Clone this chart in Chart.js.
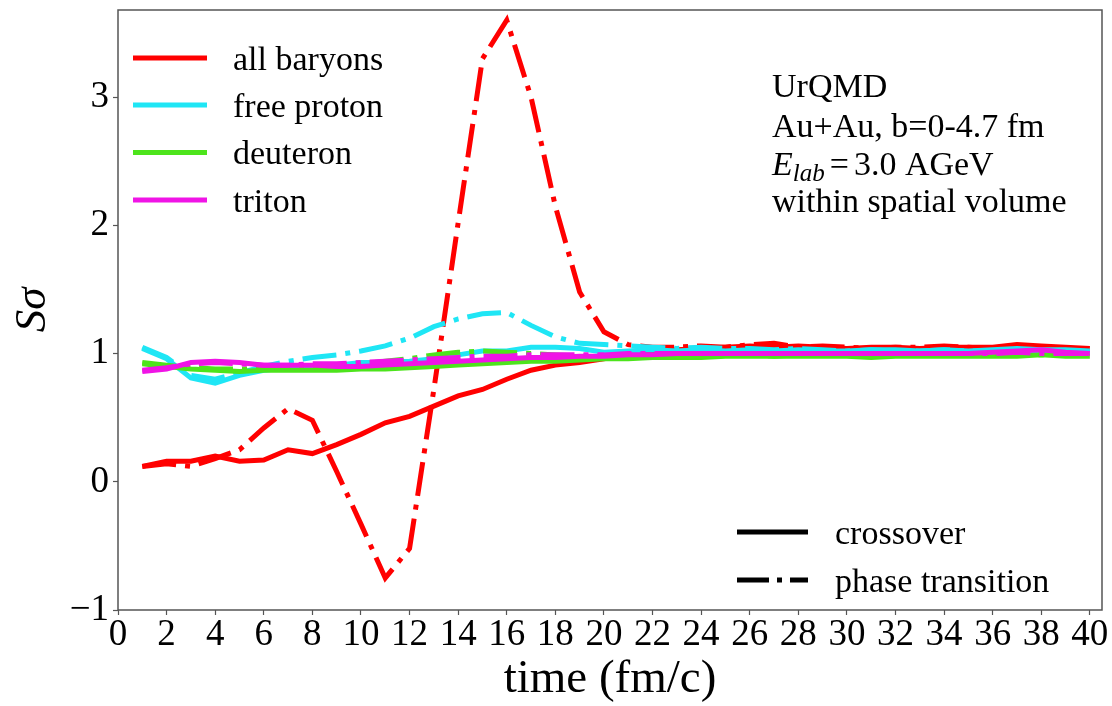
<!DOCTYPE html>
<html>
<head>
<meta charset="utf-8">
<title>S sigma vs time</title>
<script src="https://cdn.jsdelivr.net/npm/chart.js@4.4.1/dist/chart.umd.min.js"></script>
<style>
    html, body { margin: 0; padding: 0; background: #fff; }
    #wrap { width: 1112px; height: 706px; }
</style>
</head>
<body>
<div id="wrap"><canvas id="sigma-chart" width="1112" height="706"></canvas></div>
<script>
const times = [1, 2, 3, 4, 5, 6, 7, 8, 9, 10, 11, 12, 13, 14, 15, 16, 17, 18, 19, 20,
    21, 22, 23, 24, 25, 26, 27, 28, 29, 30, 31, 32, 33, 34, 35, 36, 37, 38, 39, 40];

// crossover (solid)
const baryonsCross = [0.12, 0.16, 0.16, 0.20, 0.16, 0.17, 0.25, 0.22, 0.29, 0.37,
    0.46, 0.51, 0.59, 0.67, 0.72, 0.80, 0.87, 0.91, 0.93, 0.96,
    0.99, 1.02, 1.03, 1.04, 1.05, 1.06, 1.05, 1.06, 1.05, 1.04,
    1.05, 1.05, 1.04, 1.05, 1.05, 1.05, 1.07, 1.06, 1.05, 1.04];
const protonCross = [1.04, 0.96, 0.81, 0.77, 0.83, 0.87, 0.89, 0.90, 0.91, 0.93,
    0.93, 0.94, 0.96, 0.99, 1.02, 1.02, 1.05, 1.05, 1.04, 1.01,
    1.02, 1.03, 1.02, 1.03, 1.02, 1.03, 1.02, 1.03, 1.02, 1.02,
    1.03, 1.03, 1.02, 1.03, 1.02, 1.03, 1.04, 1.03, 1.03, 1.02];
const deuteronCross = [0.92, 0.90, 0.88, 0.87, 0.86, 0.87, 0.87, 0.87, 0.87, 0.88,
    0.88, 0.89, 0.90, 0.91, 0.92, 0.93, 0.94, 0.94, 0.95, 0.96,
    0.96, 0.97, 0.97, 0.97, 0.98, 0.98, 0.98, 0.98, 0.98, 0.98,
    0.97, 0.98, 0.98, 0.98, 0.98, 0.98, 0.98, 0.99, 0.98, 0.98];
const tritonCross = [0.86, 0.88, 0.93, 0.94, 0.93, 0.91, 0.91, 0.91, 0.90, 0.90,
    0.91, 0.92, 0.93, 0.94, 0.95, 0.96, 0.97, 0.97, 0.98, 0.98,
    0.99, 0.99, 1.00, 1.00, 1.00, 1.00, 1.00, 1.00, 1.00, 1.00,
    1.00, 1.00, 1.00, 1.00, 1.00, 1.01, 1.02, 1.03, 1.01, 1.00];

// phase transition (dash-dot)
const baryonsPhase = [0.12, 0.14, 0.12, 0.18, 0.25, 0.42, 0.57, 0.48, 0.08, -0.33,
    -0.75, -0.52, 0.72, 2.02, 3.30, 3.60, 3.00, 2.15, 1.48, 1.17,
    1.07, 1.05, 1.05, 1.06, 1.05, 1.07, 1.08, 1.05, 1.06, 1.05,
    1.04, 1.05, 1.05, 1.06, 1.05, 1.04, 1.05, 1.05, 1.04, 1.03];
const protonPhase = [1.05, 0.97, 0.83, 0.80, 0.85, 0.90, 0.94, 0.97, 0.99, 1.02,
    1.06, 1.12, 1.21, 1.27, 1.31, 1.32, 1.22, 1.13, 1.08, 1.07,
    1.06, 1.05, 1.04, 1.05, 1.04, 1.04, 1.03, 1.04, 1.03, 1.02,
    1.03, 1.02, 1.02, 1.03, 1.02, 1.02, 1.03, 1.02, 1.02, 1.01];
const deuteronPhase = [0.93, 0.91, 0.89, 0.88, 0.88, 0.88, 0.89, 0.90, 0.91, 0.92,
    0.94, 0.96, 0.99, 1.01, 1.02, 1.01, 1.00, 0.99, 0.98, 0.98,
    0.98, 0.99, 0.99, 0.98, 0.99, 0.99, 0.98, 0.99, 0.99, 0.99,
    0.98, 0.99, 0.99, 0.99, 0.99, 0.99, 1.00, 0.99, 0.99, 0.99];
const tritonPhase = [0.87, 0.89, 0.92, 0.93, 0.92, 0.91, 0.91, 0.92, 0.92, 0.93,
    0.94, 0.95, 0.96, 0.97, 0.98, 0.98, 0.99, 0.99, 0.99, 0.99,
    1.00, 1.00, 1.00, 1.00, 1.00, 1.00, 1.00, 1.00, 1.00, 1.00,
    1.00, 1.00, 1.00, 1.00, 1.00, 1.00, 1.01, 1.00, 1.00, 1.00];

const xTicks = [0, 2, 4, 6, 8, 10, 12, 14, 16, 18, 20, 22, 24, 26, 28, 30, 32, 34, 36, 38, 40];
const yTicks = [-1, 0, 1, 2, 3];

const speciesNames = ['all baryons', 'free proton', 'deuteron', 'triton'];
const styleNames = ['crossover', 'phase transition'];
const infoLines = ['UrQMD', 'Au+Au, b=0-4.7 fm', '3.0 AGeV', 'within spatial volume'];

const colors = ['#ff0000', '#1fe6f5', '#4de41c', '#f014e6'];
const serif = '"Liberation Serif", "Times New Roman", serif';
const dashDot = [34, 9, 5, 9];
const frameColor = '#555';

function points(values) {
    return values.map((v, i) => ({x: times[i], y: v}));
}

function makeSet(label, values, color, dashed, order) {
    return {
        label: label,
        data: points(values),
        borderColor: color,
        backgroundColor: color,
        borderWidth: 5,
        borderDash: dashed ? dashDot : [],
        pointRadius: 0,
        tension: 0,
        fill: false,
        order: order
    };
}

// lower order draws on top, so triton ends up above the others
const datasets = [
    makeSet('all baryons', baryonsCross, colors[0], false, 8),
    makeSet('all baryons (phase)', baryonsPhase, colors[0], true, 7),
    makeSet('free proton', protonCross, colors[1], false, 6),
    makeSet('free proton (phase)', protonPhase, colors[1], true, 5),
    makeSet('deuteron', deuteronCross, colors[2], false, 4),
    makeSet('deuteron (phase)', deuteronPhase, colors[2], true, 3),
    makeSet('triton', tritonCross, colors[3], false, 2),
    makeSet('triton (phase)', tritonPhase, colors[3], true, 1)
];

const overlayPlugin = {
    id: 'overlay',
    afterDraw(chart) {
        const ctx = chart.ctx;
        const a = chart.chartArea;
        ctx.save();

        // box round the plot
        ctx.strokeStyle = frameColor;
        ctx.lineWidth = 1.5;
        ctx.setLineDash([]);
        ctx.strokeRect(a.left, a.top, a.right - a.left, a.bottom - a.top);

        // species legend
        ctx.font = '34px ' + serif;
        ctx.fillStyle = '#000';
        ctx.textBaseline = 'alphabetic';
        ctx.textAlign = 'left';
        const legendY = [58, 105, 152.5, 200];
        speciesNames.forEach((name, i) => {
            ctx.strokeStyle = colors[i];
            ctx.lineWidth = 5;
            ctx.beginPath();
            ctx.moveTo(133, legendY[i]);
            ctx.lineTo(207, legendY[i]);
            ctx.stroke();
            ctx.fillText(name, 233, legendY[i] + 11.5);
        });

        // line style legend
        const styleY = [532, 580];
        styleNames.forEach((name, i) => {
            ctx.strokeStyle = '#000';
            ctx.lineWidth = 5;
            ctx.setLineDash(i === 0 ? [] : [32, 8, 5, 8]);
            ctx.beginPath();
            ctx.moveTo(737, styleY[i]);
            ctx.lineTo(808, styleY[i]);
            ctx.stroke();
            ctx.setLineDash([]);
            ctx.fillText(name, 835, styleY[i] + 11.5);
        });

        // info text
        const infoX = 772;
        const infoY = [97, 137, 175, 212];
        ctx.fillText(infoLines[0], infoX, infoY[0]);
        ctx.fillText(infoLines[1], infoX, infoY[1]);
        ctx.fillText(infoLines[3], infoX, infoY[3]);

        ctx.font = 'italic 34px ' + serif;
        ctx.fillText('E', infoX, infoY[2]);
        let x = infoX + ctx.measureText('E').width;
        ctx.font = 'italic 25px ' + serif;
        ctx.fillText('lab', x, infoY[2] + 6);
        x += ctx.measureText('lab').width + 5;
        ctx.font = '34px ' + serif;
        ctx.fillText('=', x, infoY[2]);
        x += ctx.measureText('=').width + 5;
        ctx.fillText(infoLines[2], x, infoY[2]);

        ctx.restore();
    }
};

const ctx = document.getElementById('sigma-chart').getContext('2d');
const sigmaChart = new Chart(ctx, {
    type: 'line',
    data: {datasets: datasets},
    options: {
        responsive: false,
        animation: false,
        devicePixelRatio: 1,
        layout: {padding: {left: 0, top: 10, right: 10, bottom: 0}},
        plugins: {
            legend: {display: false},
            tooltip: {enabled: false}
        },
        scales: {
            x: {
                type: 'linear',
                min: 0,
                max: 40.5,
                afterBuildTicks(scale) {
                    scale.ticks = xTicks.map(v => ({value: v}));
                },
                afterFit(scale) {
                    scale.height = 96;
                    scale.paddingLeft = 0;
                    scale.paddingRight = 0;
                },
                grid: {
                    drawOnChartArea: false,
                    drawTicks: true,
                    tickLength: 5,
                    tickWidth: 1.2,
                    tickColor: frameColor
                },
                border: {display: false},
                ticks: {
                    autoSkip: false,
                    maxRotation: 0,
                    padding: 0,
                    color: '#000',
                    font: {family: serif, size: 37, lineHeight: 1.1}
                },
                title: {
                    display: true,
                    text: 'time (fm/c)',
                    color: '#000',
                    padding: 0,
                    font: {family: serif, size: 47, lineHeight: 1.1}
                }
            },
            y: {
                type: 'linear',
                min: -1,
                max: 3.68,
                afterBuildTicks(scale) {
                    scale.ticks = yTicks.map(v => ({value: v}));
                },
                afterFit(scale) {
                    scale.width = 118;
                    scale.paddingTop = 0;
                    scale.paddingBottom = 0;
                },
                grid: {
                    drawOnChartArea: false,
                    drawTicks: true,
                    tickLength: 5,
                    tickWidth: 1.2,
                    tickColor: frameColor
                },
                border: {display: false},
                ticks: {
                    padding: 4,
                    color: '#000',
                    font: {family: serif, size: 37, lineHeight: 1.1},
                    callback: (v) => v < 0 ? '\u2212' + Math.abs(v) : String(v)
                },
                title: {
                    display: true,
                    text: 'S\u03c3',
                    color: '#000',
                    padding: {top: 6, bottom: 0},
                    font: {family: serif, size: 45, style: 'italic', lineHeight: 1.2}
                }
            }
        }
    },
    plugins: [overlayPlugin]
});
</script>
</body>
</html>
